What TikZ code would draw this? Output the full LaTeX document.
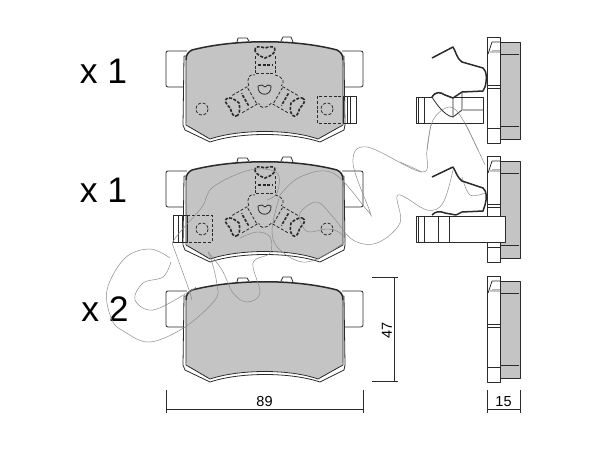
\documentclass[tikz,border=0pt]{standalone}
\usepackage{fontspec}
\setmainfont{Liberation Sans}
\definecolor{padgray}{HTML}{C4C4C4}
\definecolor{inkdark}{HTML}{2A2A2A}
\definecolor{logogray}{HTML}{8C8C8C}
\tikzset{
  outline/.style={draw=inkdark,line width=0.8pt,line join=round},
  thick outline/.style={draw=inkdark,line width=1.5pt,line join=round},
  dashline/.style={draw=inkdark,line width=0.8pt,dash pattern=on 3pt off 1.8pt},
  boldash/.style={draw=inkdark,line width=1.6pt,dash pattern=on 3pt off 1.5pt},
  dimline/.style={draw=inkdark,line width=0.7pt},
  logoline/.style={draw=logogray,line width=0.5pt},
  countlabel/.style={font=\fontsize{35.5}{35.5}\selectfont,text=black,inner sep=0pt},
  dimlabel/.style={font=\fontsize{14.5}{14.5}\selectfont,text=black,inner sep=0pt},
  padplate/.pic={
    % Tabs
    \draw[outline,rounded corners=2pt,fill=white] (187,51) -- (166,51) -- (166,87) -- (187,87);
    \draw[outline,rounded corners=2pt,fill=white] (342,51) -- (363,51) -- (363,87) -- (343,87);
    \draw[outline,fill=white] (237,42) -- (238,38) -- (247,38) -- (249,41);
    \draw[outline,fill=white] (281,41) -- (283,37) -- (291,37) -- (293,42);
    % Plate and friction block
    \draw[outline,fill=white] (184,56) -- (183,125) -- (185,130) -- (210,142) .. controls (240,132) and (290,132) .. (320,142) -- (344,130) -- (345,125) -- (344,56) -- cycle;
    \draw[draw=none,fill=padgray,rounded corners=4pt] (186,60) .. controls (186,55) and (188,52) .. (192,50) .. controls (235,39) and (295,39) .. (337,50) .. controls (341,52) and (343,55) .. (343,60) -- (343,125) -- (318,139) .. controls (290,129) and (240,129) .. (210,139) -- (186,125) -- cycle;
    \draw[thick outline] (186,60) .. controls (186,55) and (188,52) .. (192,50) .. controls (235,39) and (295,39) .. (337,50) .. controls (341,52) and (343,55) .. (343,60);
    \draw[outline] (343,60) -- (343,125) -- (318,139) .. controls (290,129) and (240,129) .. (210,139) -- (186,125) -- (186,60);
  },
  padspider/.pic={
    \foreach \ang in {0,120,-120} {
      \begin{scope}[shift={(265,88)},rotate=\ang]
        \draw[boldash] (-10,-37) .. controls (-11,-42) and (-5,-42) .. (0,-40) .. controls (5,-42) and (11,-42) .. (10,-37) .. controls (8,-33) and (3,-31) .. (0,-30) .. controls (-3,-31) and (-8,-33) .. (-10,-37);
        \draw[dashline] (-10,-32) -- (-10,-13) (10,-32) -- (10,-13);
        \draw[boldash] (-7,-23) -- (7,-23);
        \draw[dashline] (-9,-15) -- (9,-15);
        \draw[dashline] (10,-13) .. controls (19,-11) and (20,-5) .. (16.3,-2.2);
      \end{scope}
    }
    \draw[outline] (258,86) .. controls (257,97) and (272,97) .. (271,86) -- (268,85) -- (265,87) -- (262,85) -- cycle;
  },
  padcircles/.pic={
    \draw[dashline] (202,109) circle (6);
    \draw[dashline] (327,109) circle (6);
  },
  sideview/.pic={
    % Backing plate and friction block
    \draw[outline,fill=white] (487,37) rectangle (500,143);
    \draw[outline,fill=padgray] (500,42) rectangle (520,139);
    \draw[outline,line width=1pt] (501,54) -- (519,54);
    \draw[outline,line width=1pt] (501,126) -- (519,126);
    \draw[outline] (487,85) -- (500,85) (487,88) -- (500,88) (487,128) -- (500,128);
    \draw[outline] (500,42) -- (492,42) -- (488,54) (492,51) -- (500,51);
    \draw[draw=none,fill=padgray] (490,51) rectangle (500,53);
  },
}
\begin{document}
\begin{tikzpicture}[x=1pt,y=-1pt]
\useasboundingbox (0,0) rectangle (600,450);

% Labels
\node[countlabel] (count1) at (103.5,71) {x 1};
\node[countlabel] (count2) at (103.5,190) {x 1};
\node[countlabel] (count3) at (105,309) {x 2};

% Pads
\pic (padA) at (0,0) {padplate};
\pic (spiderA) at (0,0) {padspider};
\pic (holesA) at (0,0) {padcircles};
\pic (padB) at (0,120) {padplate};
\pic (spiderB) at (0,120) {padspider};
\pic (holesB) at (0,120) {padcircles};
\pic (padC) at (0,240) {padplate};

% Lugs
\draw[dashline] (317,96) rectangle (343,123);
\draw[outline] (343,96) rectangle (356,123);
\draw[outline] (347,96) -- (347,123) (350,96) -- (350,123);
\draw[outline] (173,215) rectangle (187,242);
\draw[outline] (178,215) -- (178,242) (182,215) -- (182,242);
\draw[dashline] (187,215) rectangle (212,242);

% Logo
\draw[logoline] plot[smooth,tension=.6] coordinates {(170,258) (150,249) (125,258) (107,290) (112,320) (125,332) (150,342) (185,327) (215,300) (217,285) (212,262) (208,252)};
\draw[logoline] plot[smooth,tension=.6] coordinates {(171,262) (163,277) (143,283) (135,300) (153,310) (187,293) (196,287)};
\draw[logoline] plot[smooth,tension=.6] coordinates {(172,243) (188,287) (192,300)};
\draw[logoline] plot[smooth,tension=.6] coordinates {(172,243) (180,232) (202,207) (213,187) (250,170) (277,173) (277,193) (267,200)};
\draw[logoline] plot[smooth,tension=.6] coordinates {(208,252) (222,270) (233,293) (247,302) (260,293) (253,263) (270,253) (270,237) (257,232) (240,238)};
\draw[logoline] plot[smooth,tension=.6] coordinates {(280,195) (272,230) (280,250) (307,262) (343,243) (340,233) (327,229) (310,232) (303,227) (300,213) (317,202) (333,217) (353,240) (377,243) (400,223) (398,195) (427,210) (443,203) (453,170)};
\draw[logoline] plot[smooth,tension=.6] coordinates {(280,195) (300,177) (333,173) (367,210) (370,212) (353,163) (367,147) (422,172) (427,150) (433,120) (450,107) (463,120) (478,150) (485,165)};
\draw[logoline] plot[smooth,tension=.6] coordinates {(462,177) (470,195) (485,193)};
\draw[logoline] plot[smooth,tension=.6] coordinates {(422,172) (400,162)};

% Side views
\pic (sideA) at (0,0) {sideview};
\pic (sideB) at (0,119) {sideview};
\pic (sideC) at (0,239) {sideview};

% Clip of the first side view
\draw[outline,fill=white] (416,97) -- (483,97) -- (483,123) -- (416,123) -- cycle;
\draw[outline] (418,97) -- (418,123) (424,97) -- (424,123);
\draw[outline] (462,93) -- (462,110) (483,110) -- (463,110) (453,117) -- (462,110);
\draw[outline,fill=white] (432,97) .. controls (436,91) and (440,92) .. (445,95) -- (453,98) -- (453,117) .. controls (447,116) and (440,110) .. (432,97) -- cycle;
\draw[logoline] plot[smooth,tension=.6] coordinates {(427,150) (433,120) (450,107) (463,120) (478,150)};
\draw[thick outline] (432,58) -- (453,47) .. controls (456,52) and (457,59) .. (462,62) -- (483,68) .. controls (487,71) and (487,80) .. (485,87) -- (483,91) -- (462,92) -- (453,98) -- (445,95) .. controls (440,92) and (436,91) .. (432,97);

% Clip of the second side view
\draw[thick outline] (432,177) -- (453,167) .. controls (456,172) and (457,177) .. (462,181) -- (483,188) .. controls (487,191) and (487,198) .. (485,205) -- (483,211) -- (462,212) -- (456,215) (456,215) -- (445,213) .. controls (440,211) and (436,211) .. (432,215);
\draw[outline,fill=white] (416,216) rectangle (505,242);
\draw[outline] (418,216) -- (418,242) (424,216) -- (424,242) (438,216) -- (438,242) (449,216) -- (449,242);

% Dimensions
\draw[dimline] (166,390) -- (166,413) (363,390) -- (363,413) (166,409) -- (363,409);
\node[dimlabel] (width) at (264.5,402) {89};
\draw[dimline] (372,277) -- (398,277) (372,381) -- (398,381) (394,277) -- (394,381);
\node[dimlabel,rotate=90] (height) at (387,330) {47};
\draw[dimline] (487,390) -- (487,413) (520,390) -- (520,413) (487,409) -- (520,409);
\node[dimlabel] (thick) at (503.5,402) {15};

\end{tikzpicture}
\end{document}
